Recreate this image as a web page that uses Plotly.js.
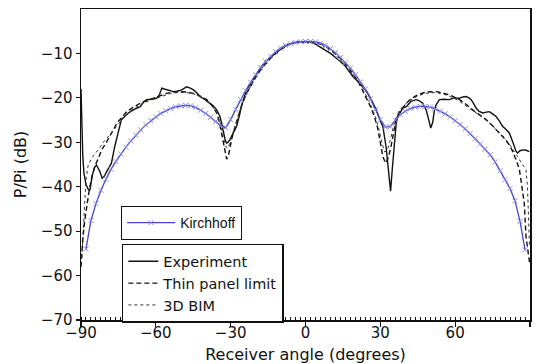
<!DOCTYPE html>
<html>
<head>
<meta charset="utf-8">
<script src="https://cdn.plot.ly/plotly-3.0.1.min.js"></script>
<style>html,body{margin:0;padding:0;background:#fff;}#chart{width:539px;height:364px;}</style>
</head>
<body>
<div id="chart"></div>
<script>
// Kirchhoff (blue, x markers)
const kirchAngle = [-88,-86,-84,-82,-80,-78,-76,-74,-72,-70,-68,-66,-64,-62,-60,-58,-56,-54,-52,-50,-48,-46,-44,-42,-40,-38,-36,-34,-32,-30,-28,-26,-24,-22,-20,-18,-16,-14,-12,-10,-8,-6,-4,-2,0,2,4,6,8,10,12,14,16,18,20,22,24,26,28,30,32,34,36,38,40,42,44,46,48,50,52,54,56,58,60,62,64,66,68,70,72,74,76,78,80,82,84,86,88];
const kirchDb = [-54.0,-47.6,-43.8,-40.8,-38.3,-36.1,-34.3,-32.6,-31.1,-29.7,-28.4,-27.2,-26.1,-25.1,-24.3,-23.5,-22.9,-22.4,-22.0,-21.8,-21.7,-21.8,-22.2,-22.8,-23.5,-24.4,-25.3,-26.3,-26.7,-24.9,-22.6,-20.4,-18.4,-16.5,-14.8,-13.2,-11.8,-10.6,-9.6,-8.8,-8.2,-7.8,-7.5,-7.4,-7.3,-7.3,-7.4,-7.7,-8.2,-8.9,-9.8,-10.9,-12.1,-13.3,-14.8,-16.4,-18.0,-20.2,-22.6,-24.9,-26.6,-26.5,-25.0,-23.8,-23.0,-22.4,-22.1,-21.9,-21.9,-22.1,-22.5,-23.0,-23.6,-24.3,-25.1,-26.0,-27.0,-28.0,-29.2,-30.4,-31.6,-32.8,-34.4,-36.4,-38.4,-40.4,-43.2,-47.8,-54.2];

// Experiment (solid)
const expAngle = [-90,-89.7,-89.3,-88.8,-88,-87,-86.4,-85.5,-84.5,-83.8,-82.5,-81.5,-80.5,-79.6,-77.8,-76.5,-75,-73.8,-72.5,-71,-69,-67.5,-66.3,-65,-63.7,-62,-59.7,-58.5,-57.6,-56.6,-55.6,-54,-53,-51.5,-49.6,-48.5,-47.6,-46.2,-44.9,-43.5,-42.3,-40.3,-38.3,-37,-35.6,-34.3,-33.5,-32.9,-32.2,-31.6,-30.9,-30.3,-29.6,-29,-27.6,-26.5,-25.5,-23.6,-21.5,-19.6,-17.5,-16,-14.3,-12,-10,-8,-6,-4,-2,0,2,4,5.7,8,10,12.4,14,16,17.5,19,21,23,24.5,25.7,27,28.4,29.8,31,32.3,33.2,34.1,34.8,35.7,36.4,37,38,39,40.4,42.3,44.4,45.5,47,48.4,49.2,50.2,51,51.7,52.4,53.7,55.5,57.7,59.5,61.7,63,64.4,65.5,66.4,67.4,68.4,69.5,71,72.5,73.7,75,76.4,77.7,79,80.5,81.7,82.8,83.7,84.4,85,86,87,88.5,89.7];
const expDb = [-18,-28,-33,-37,-39.5,-40.7,-40.7,-37.5,-35.6,-35.1,-36.5,-38.1,-37.5,-36.5,-34.7,-31,-27.9,-24.9,-24.2,-23.4,-22.7,-22.4,-22,-21,-20.4,-20.3,-20.1,-19.2,-17.8,-18.0,-18.2,-18.5,-18.6,-18.5,-18.2,-17.8,-17.5,-17.8,-18.2,-18.9,-19.7,-20.4,-21.2,-21.8,-22.7,-24.2,-26,-27.9,-29.5,-30.2,-29.9,-29.4,-28.7,-27.9,-26.4,-24,-21.5,-18.2,-16.3,-14.5,-12.8,-11.8,-11.1,-9.9,-9.0,-8.3,-7.8,-7.5,-7.4,-7.4,-7.5,-7.9,-8.5,-9.2,-10.0,-11.1,-11.8,-12.9,-14.0,-15.2,-16.3,-17.5,-18.6,-19.7,-21.2,-22.7,-25.0,-26.4,-31,-36,-41,-36,-29,-25.5,-24.2,-23.2,-22.3,-22.0,-20.8,-20.4,-20.6,-21.2,-22.8,-24.5,-26.8,-25.5,-22.7,-21.5,-20.4,-20.3,-20.4,-20.0,-20.1,-19.8,-19.7,-20.0,-20.4,-21.3,-22.3,-23.0,-23.4,-23.2,-23.1,-23.6,-24.2,-25.2,-26.4,-27.2,-27.9,-29.5,-30.9,-32,-32.4,-31.9,-31.7,-31.8,-32.1];

// Thin panel limit (dashed)
const thinAngle = [-90,-89.7,-89.3,-88.6,-87.9,-86.9,-85.9,-84.5,-83,-81.5,-79.6,-77.5,-75.6,-73.5,-71.7,-69,-66.3,-63.5,-61,-58.5,-55.7,-53,-50.3,-47.5,-44.9,-42.2,-39.6,-37.5,-35.6,-34.5,-33.7,-32.6,-31.6,-30.9,-30.3,-29.6,-29,-27.5,-25.5,-23.6,-21.5,-19.5,-17.5,-15.5,-13.5,-11.5,-9.5,-7.5,-5,-2.5,0,2.5,5,7.5,9.5,11.5,13.5,15.5,17.5,19.5,21.5,23.5,25.5,27.5,28.8,29.8,31,32.1,33.2,34.3,35.3,36.3,37.7,39.7,41.5,43,45,48.3,52.4,55,58.5,61.7,64.5,67,69.5,72.4,75,77.7,79.8,81.7,83,84.4,85.7,86.5,87.7,88.4,89.2,89.8];
const thinDb = [-58,-55,-52,-48,-45,-41.5,-38.4,-35.5,-33.5,-31.5,-29.8,-27.5,-25.7,-24.3,-23.1,-22.1,-21.2,-20.6,-20.1,-19.5,-19.0,-18.7,-18.6,-18.7,-19.0,-19.6,-20.4,-21.7,-23.4,-25.5,-27.9,-31.5,-33.8,-33,-30.9,-29.3,-28.0,-25,-21.5,-19.0,-16.8,-14.9,-13.3,-12,-10.8,-9.8,-8.9,-8.2,-7.7,-7.4,-7.3,-7.4,-7.7,-8.2,-8.9,-9.8,-10.8,-12.0,-13.4,-15.0,-16.8,-19.0,-21.3,-24,-26.5,-29.4,-33.2,-34.7,-33.5,-30.9,-27.5,-24.9,-23.0,-21.6,-20.6,-20.0,-19.3,-18.7,-18.6,-18.9,-19.5,-20.4,-21.5,-22.7,-23.7,-24.9,-26.3,-27.9,-29.2,-30.6,-32,-33.9,-36,-39,-43.7,-51.2,-54,-57];

// 3D BIM (dotted)
const bimAngle = [-89.7,-89.2,-88.6,-88,-87.1,-85,-83.1,-80.5,-77.8,-75,-72,-69,-66,-63,-60,-57,-54,-51,-48,-45,-42,-39.5,-37.5,-35.5,-34,-33,-32,-31,-30.2,-29.3,-28,-26,-24,-22,-20,-18,-16,-14,-12,-10,-8,-6,-4,-2,0,2,4,6,8,10,12,14,16,18,20,22,24,26,28,29.5,30.8,31.8,32.8,34,35.2,36.5,38,40,42,45,48,52,55,58,61,64,67,70,73,76,79,81.5,83.5,85,86.5,88.4,89,89.4,89.8];
const bimDb = [-56,-50,-44,-38.5,-35,-33,-31.7,-29.6,-27.9,-25.8,-23.8,-22.5,-21.5,-20.7,-20.1,-19.5,-19.0,-18.8,-18.8,-19.1,-19.7,-20.6,-21.8,-23.5,-26,-28.7,-31,-31.3,-29.8,-28.2,-26,-22.3,-19.5,-17.3,-15.3,-13.7,-12.3,-11.0,-9.9,-9.0,-8.3,-7.8,-7.5,-7.3,-7.3,-7.4,-7.6,-8.0,-8.6,-9.3,-10.3,-11.4,-12.6,-13.9,-15.4,-17.1,-19.1,-21.4,-24.2,-27.2,-30.5,-32.2,-31.8,-29.5,-26.5,-24.2,-22.6,-21.4,-20.5,-19.6,-19.0,-18.8,-19.1,-19.7,-20.5,-21.6,-22.8,-24.0,-25.3,-26.8,-28.5,-30.2,-31.8,-33.2,-34.6,-36.2,-40,-46,-53.4];

const xTicks = [-90,-60,-30,0,30,60,90];
const yTicks = [-70,-60,-50,-40,-30,-20,-10];

const traces = [
  {x: expAngle, y: expDb, name: 'Experiment', mode: 'lines',
   line: {color: '#111', width: 1.4}, legend: 'legend'},
  {x: thinAngle, y: thinDb, name: 'Thin panel limit', mode: 'lines',
   line: {color: '#111', width: 1.4, dash: '5px,3px'}, legend: 'legend'},
  {x: bimAngle, y: bimDb, name: '3D BIM', mode: 'lines',
   line: {color: '#333', width: 1, dash: 'dot'}, legend: 'legend'},
  {x: kirchAngle, y: kirchDb, name: 'Kirchhoff', mode: 'lines+markers',
   line: {color: '#4646c8', width: 1.3},
   marker: {symbol: 'x-thin', size: 5, line: {color: '#8c8ce6', width: 1}},
   legend: 'legend2'}
];

const tickFont = {family: 'DejaVu Sans, sans-serif', size: 15, color: '#111'};
const titleFont = {family: 'DejaVu Sans, sans-serif', size: 16, color: '#111'};

const layout = {
  width: 539, height: 364,
  margin: {l: 81, r: 9, t: 9, b: 44},
  paper_bgcolor: '#fff', plot_bgcolor: '#fff',
  showlegend: true,
  xaxis: {
    range: [-90, 90], tickmode: 'array', tickvals: xTicks,
    ticktext: xTicks.map(v => v < 0 ? '\u2212' + Math.abs(v) : String(v)),
    ticks: 'outside', ticklen: 5, tickwidth: 1.2, tickcolor: '#111',
    ticklabelstandoff: -7,
    minor: {dtick: 2, tick0: 0, ticks: 'inside', ticklen: 3, tickwidth: 1, tickcolor: '#111', showgrid: false},
    showline: true, mirror: true, linecolor: '#111', linewidth: 1.5,
    showgrid: false, zeroline: false,
    tickfont: tickFont,
    title: {text: 'Receiver angle (degrees)', font: titleFont}
  },
  yaxis: {
    range: [-70, 0], tickmode: 'array', tickvals: yTicks,
    ticktext: yTicks.map(v => '\u2212' + Math.abs(v)),
    ticks: 'outside', ticklen: 4, tickwidth: 1.2, tickcolor: '#111',
    showline: true, mirror: true, linecolor: '#111', linewidth: 1.5,
    showgrid: false, zeroline: false,
    tickfont: tickFont,
    title: {text: 'P/Pi (dB)', font: titleFont, standoff: 10}
  },
  legend: {
    x: 0.091, y: 0.245, xanchor: 'left', yanchor: 'top',
    bgcolor: '#fff', bordercolor: '#111', borderwidth: 1.5,
    font: {family: 'DejaVu Sans, sans-serif', size: 14.5, color: '#111'},
    tracegroupgap: 0, itemwidth: 30
  },
  legend2: {
    x: 0.089, y: 0.367, xanchor: 'left', yanchor: 'top',
    bgcolor: '#fff', bordercolor: '#111', borderwidth: 1.2,
    font: {family: 'Liberation Sans, Arial, sans-serif', size: 14, color: '#111'},
    itemwidth: 48
  }
};

Plotly.newPlot('chart', traces, layout, {displayModeBar: false, staticPlot: true});
</script>
</body>
</html>
